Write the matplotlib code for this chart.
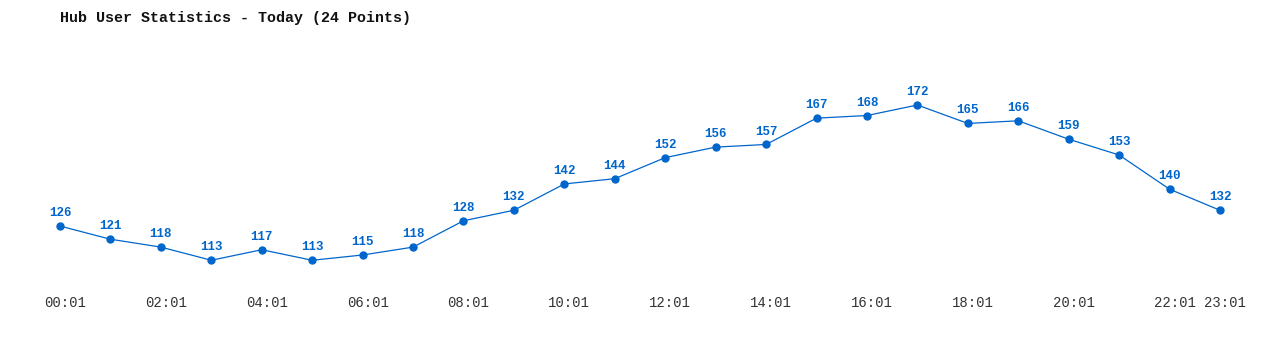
import matplotlib
matplotlib.use("Agg")
import matplotlib.pyplot as plt
from matplotlib.transforms import blended_transform_factory, ScaledTranslation

# hourly user counts
hours = ["00:01", "01:01", "02:01", "03:01", "04:01", "05:01", "06:01", "07:01",
         "08:01", "09:01", "10:01", "11:01", "12:01", "13:01", "14:01", "15:01",
         "16:01", "17:01", "18:01", "19:01", "20:01", "21:01", "22:01", "23:01"]
users = [126, 121, 118, 113, 117, 113, 115, 118, 128, 132, 142, 144,
         152, 156, 157, 167, 168, 172, 165, 166, 159, 153, 140, 132]
tick_idx = [0, 2, 4, 6, 8, 10, 12, 14, 16, 18, 20, 22, 23]

blue = "#0066cc"
grey = "#333333"
mono = ["Liberation Mono", "DejaVu Sans Mono"]

fig = plt.figure(figsize=(12.8, 3.5), dpi=100)
ax = fig.add_axes([60 / 1280, 60 / 350, 1160 / 1280, 230 / 350])

x = list(range(len(users)))
ax.plot(x, users, color=blue, lw=0.9, marker="o", ms=5, clip_on=False)
for xi, v in zip(x, users):
    ax.annotate(str(v), (xi, v), xytext=(0, 5), textcoords="offset points",
                ha="center", va="bottom", color=blue, fontsize=9,
                fontweight="bold", family=mono)

ax.set_xlim(0, 23)
ax.set_ylim(101.7, 189.1)
ax.set_yticks([])
ax.set_xticks([])
for s in ax.spines.values():
    s.set_visible(False)

# time labels sit a few pixels right of their points
trans = blended_transform_factory(ax.transData, ax.transAxes) + \
    ScaledTranslation(5 / 100, 0, fig.dpi_scale_trans)
for i in tick_idx:
    ax.text(i, -0.057, hours[i], transform=trans, ha="center", va="center",
            color=grey, fontsize=10, family=mono)

fig.text(60 / 1280, 1 - 18 / 350, "Hub User Statistics - Today (24 Points)",
         ha="left", va="center", color="#111111", fontsize=10.8,
         fontweight="semibold", family=mono)

fig.savefig("out.png", dpi=100)
